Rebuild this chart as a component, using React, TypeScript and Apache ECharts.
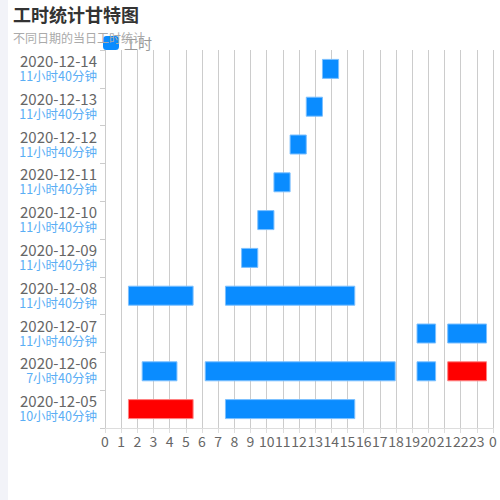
import React, { useEffect, useRef } from "react";
import * as echarts from "echarts";

const dates = [
  "2020-12-05", "2020-12-06", "2020-12-07", "2020-12-08", "2020-12-09",
  "2020-12-10", "2020-12-11", "2020-12-12", "2020-12-13", "2020-12-14",
];
const durations = [
  "10小时40分钟", "7小时40分钟", "11小时40分钟", "11小时40分钟", "11小时40分钟",
  "11小时40分钟", "11小时40分钟", "11小时40分钟", "11小时40分钟", "11小时40分钟",
];
const hourTicks = [0, 1, 2, 3, 4, 5, 6, 7, 8, 9, 10, 11, 12, 13, 14, 15, 16, 17, 18, 19, 20, 21, 22, 23, 0];

const barDay = [0, 0, 1, 1, 1, 1, 2, 2, 3, 3, 4, 5, 6, 7, 8, 9];
const barStart = [1.45, 7.45, 2.3, 6.2, 19.3, 21.2, 19.3, 21.2, 1.45, 7.45, 8.45, 9.45, 10.45, 11.45, 12.45, 13.45];
const barEnd = [5.45, 15.45, 4.45, 17.95, 20.45, 23.6, 20.45, 23.6, 5.45, 15.45, 9.45, 10.45, 11.45, 12.45, 13.45, 14.45];
const barAlert = [1, 0, 0, 0, 0, 1, 0, 0, 0, 0, 0, 0, 0, 0, 0, 0];

const FONT = "Noto Sans CJK SC, sans-serif";

export default function App() {
  const ref = useRef<HTMLDivElement>(null);
  useEffect(() => {
    document.body.style.margin = "0";
    if (!ref.current) return;
    const chart = echarts.init(ref.current, undefined, { renderer: "svg" });
    const data = barDay.map((d, i) => ({
      value: [d, barStart[i], barEnd[i]],
      alert: barAlert[i],
    }));
    chart.setOption({
      animation: false,
      textStyle: { fontFamily: FONT },
      title: {
        text: "工时统计甘特图",
        subtext: "不同日期的当日工时统计",
        left: 0,
        top: 0,
        itemGap: 9,
        textStyle: { fontSize: 18, fontWeight: "bold", color: "#333", fontFamily: FONT },
        subtextStyle: { fontSize: 12, color: "#aaa", fontFamily: FONT },
      },
      legend: {
        data: [{ name: "工时", icon: "roundRect" }],
        left: 90,
        top: 31,
        itemWidth: 16,
        itemHeight: 14,
        textStyle: { fontSize: 14, color: "#999", fontFamily: FONT },
      },
      grid: { left: 97, right: 7, top: 50, bottom: 72 },
      xAxis: {
        type: "value",
        min: 0,
        max: 24,
        interval: 1,
        axisLine: { show: true, lineStyle: { color: "#ddd" } },
        axisTick: { show: true, lineStyle: { color: "#ddd" } },
        splitLine: { show: true, lineStyle: { color: "#ccc" } },
        axisLabel: {
          fontSize: 14,
          color: "#666",
          margin: 6,
          formatter: (v: number) => String(hourTicks[Math.round(v)]),
        },
      },
      yAxis: {
        type: "category",
        data: dates,
        axisLine: { show: true, lineStyle: { color: "#ccc" } },
        axisTick: { show: true, lineStyle: { color: "#ccc" } },
        splitLine: { show: false },
        axisLabel: {
          margin: 8,
          padding: [0, 0, 2, 0],
          formatter: (v: string, i: number) => `{d|${v}}\n{t|${durations[i]}}`,
          rich: {
            d: { fontSize: 15, color: "#666", lineHeight: 15, align: "right", fontFamily: FONT },
            t: { fontSize: 12.5, color: "#5aaef5", lineHeight: 15, align: "right", fontFamily: FONT },
          },
        },
      },
      series: [
        {
          name: "工时",
          type: "custom",
          itemStyle: { color: "#0a8cff" },
          encode: { x: [1, 2], y: 0 },
          renderItem: (params: any, api: any) => {
            const day = api.value(0);
            const s = api.coord([api.value(1), day]);
            const e = api.coord([api.value(2), day]);
            const h = 19;
            const item = data[params.dataIndex];
            const red = item.alert === 1;
            return {
              type: "rect",
              shape: { x: s[0], y: s[1] - h / 2, width: e[0] - s[0], height: h },
              style: {
                fill: red ? "#ff0000" : "#0a8cff",
                stroke: red ? "#ff8080" : "#7cc0ff",
                lineWidth: 1,
              },
            };
          },
          data: data.map((d) => d.value),
        },
      ],
    });
    return () => chart.dispose();
  }, []);
  return (
    <div style={{ display: "flex", width: 500, height: 500 }}>
      <div style={{ width: 8, height: 500, background: "#f2f3f8" }} />
      <div ref={ref} style={{ width: 492, height: 500, background: "#fff" }} />
    </div>
  );
}
